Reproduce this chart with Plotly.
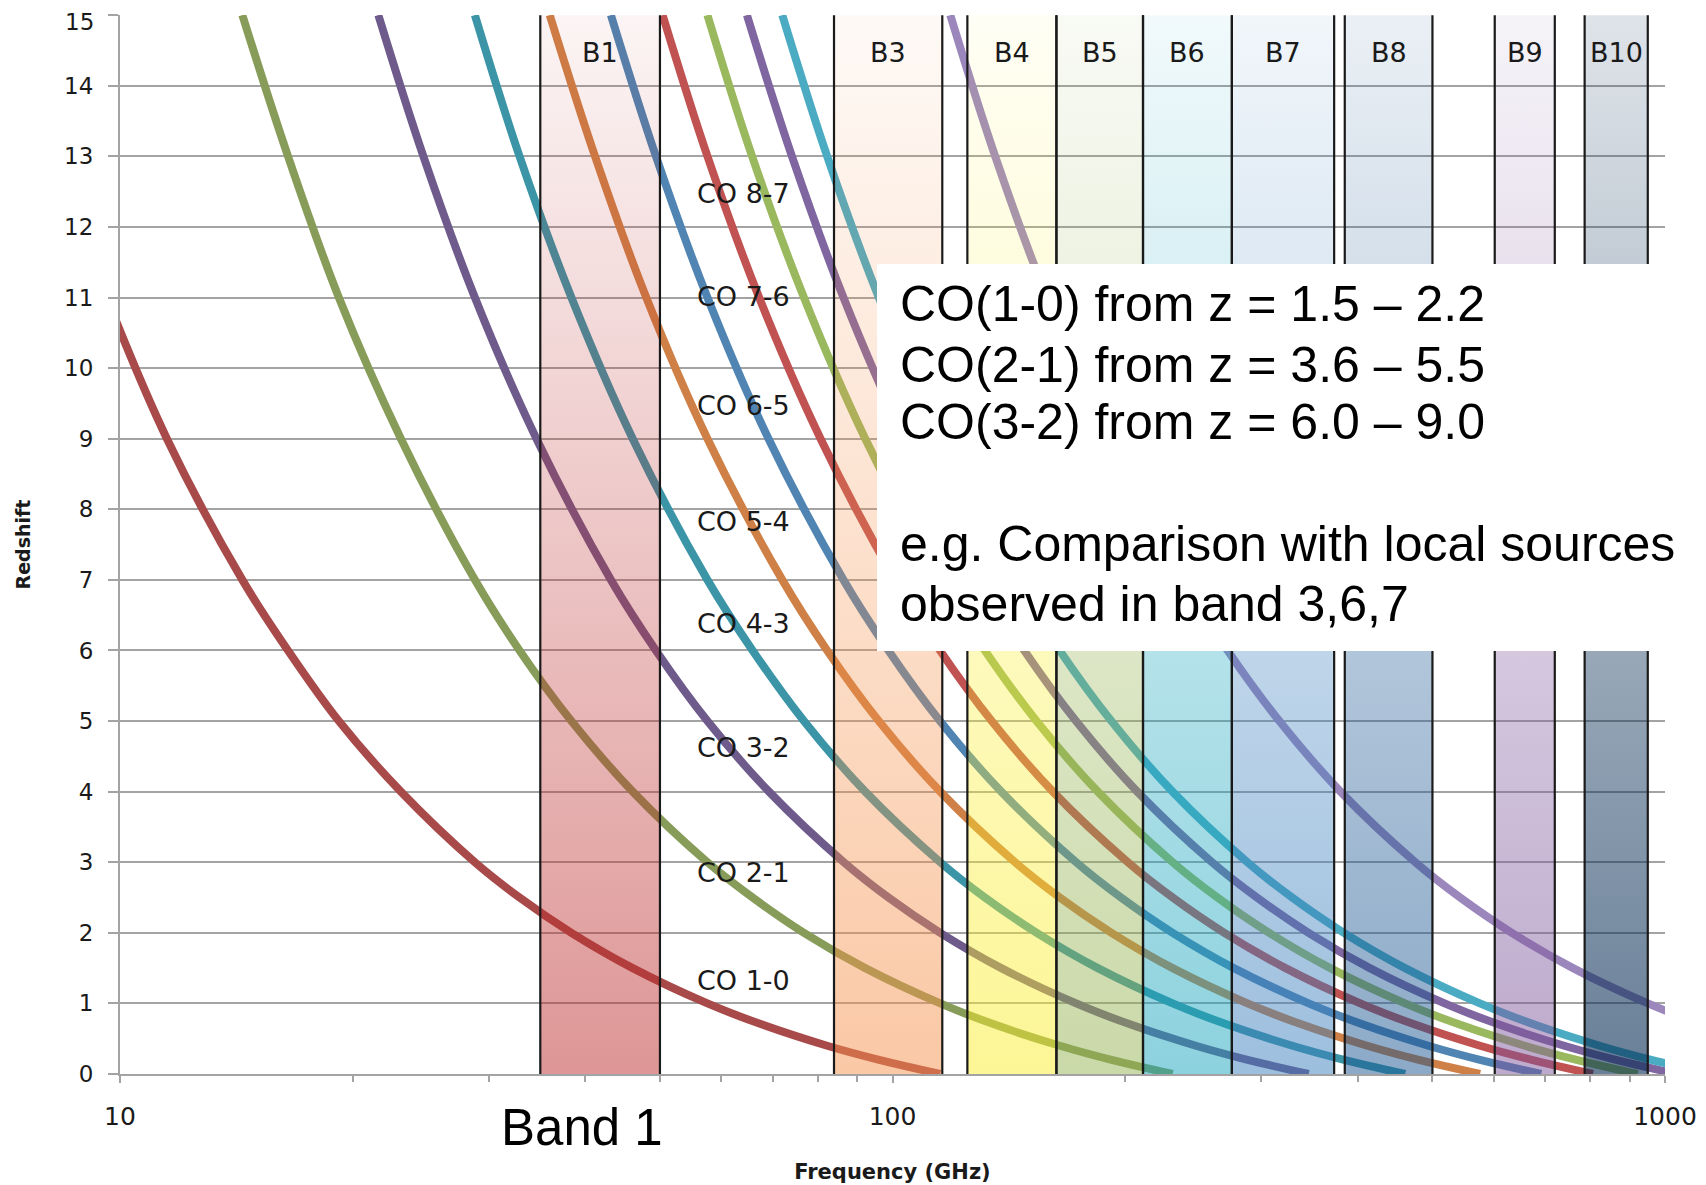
import numpy as np
import plotly.graph_objects as go

# ---------------- data ----------------
z_grid = [15, 13, 11, 9, 7, 6, 5, 4, 3, 2.5, 2, 1.5, 1, 0.7, 0.4, 0.2, 0]

co10 = [7.20, 8.23, 9.61, 11.5, 14.4, 16.5, 19.2, 23.1, 28.8, 32.9, 38.4, 46.1, 57.6, 67.8, 82.3, 96.1, 115.3]
co21 = [14.4, 16.5, 19.2, 23.1, 28.8, 32.9, 38.4, 46.1, 57.6, 65.9, 76.8, 92.2, 115.3, 135.6, 164.7, 192.1, 230.5]
co32 = [21.6, 24.7, 28.8, 34.6, 43.2, 49.4, 57.6, 69.2, 86.5, 98.8, 115.3, 138.3, 172.9, 203.4, 247.0, 288.2, 345.8]
co43 = [28.8, 32.9, 38.4, 46.1, 57.6, 65.9, 76.8, 92.2, 115.3, 131.7, 153.7, 184.4, 230.5, 271.2, 329.3, 384.2, 461.0]
co54 = [36.0, 41.2, 48.0, 57.6, 72.0, 82.3, 96.0, 115.3, 144.1, 164.6, 192.1, 230.5, 288.1, 339.0, 411.6, 480.2, 576.3]
co65 = [43.2, 49.4, 57.6, 69.1, 86.4, 98.8, 115.2, 138.3, 172.9, 197.6, 230.5, 276.6, 345.7, 406.7, 493.9, 576.2, 691.5]
co76 = [50.4, 57.6, 67.2, 80.7, 100.8, 115.2, 134.4, 161.3, 201.7, 230.5, 268.9, 322.7, 403.3, 474.5, 576.2, 672.2, 806.7]
co87 = [57.6, 65.8, 76.8, 92.2, 115.2, 131.7, 153.6, 184.4, 230.5, 263.4, 307.3, 368.7, 460.9, 542.2, 658.4, 768.2, 921.8]
co98 = [64.8, 74.1, 86.4, 103.7, 129.6, 148.1, 172.8, 207.4, 259.2, 296.3, 345.6, 414.8, 518.5, 609.9, 740.6, 864.1, 1036.9]
co109 = [72.0, 82.3, 96.0, 115.2, 144.0, 164.6, 192.0, 230.4, 288.0, 329.1, 384.0, 460.8, 576.0, 677.6, 822.9, 960.0, 1152.0]
cii = [118.8, 135.8, 158.4, 190.1, 237.6, 271.5, 316.8, 380.1, 475.1, 543.0, 633.5, 760.2, 950.3, 1117.9, 1357.5, 1583.8, 1900.5]

line_series = [co10, co21, co32, co43, co54, co65, co76, co87, co98, co109, cii]
line_names = ["CO 1-0", "CO 2-1", "CO 3-2", "CO 4-3", "CO 5-4", "CO 6-5",
              "CO 7-6", "CO 8-7", "CO 9-8", "CO 10-9", "[CII]"]

band_names = ["B1", "B3", "B4", "B5", "B6", "B7", "B8", "B9", "B10"]
band_lo = [35, 84, 125, 163, 211, 275, 385, 602, 787]
band_hi = [50, 116, 163, 211, 275, 373, 500, 720, 950]

label_names = ["CO 1-0", "CO 2-1", "CO 3-2", "CO 4-3", "CO 5-4", "CO 6-5", "CO 7-6", "CO 8-7"]

box_lines = ["CO(1-0) from z = 1.5 \u2013 2.2",
             "CO(2-1) from z = 3.6 \u2013 5.5",
             "CO(3-2) from z = 6.0 \u2013 9.0",
             "e.g. Comparison with local sources",
             "observed in band 3,6,7"]

x_ticks = [10, 100, 1000]
x_minor = [20, 30, 40, 50, 60, 70, 80, 90, 200, 300, 400, 500, 600, 700, 800, 900]
y_ticks = list(range(0, 16))
y_top_label = "15"

# ---------------- styles / positions ----------------
line_colors = ["#a94a4a", "#889c59", "#6f5b8b", "#3b95a6", "#cf8046", "#5084b2",
               "#c05252", "#9ab85e", "#7f66a0", "#4aabc2", "#9c87bc"]
band_base = [(189, 45, 45), (245, 145, 75), (249, 237, 45), (149, 179, 81),
             (25, 165, 189), (59, 127, 189), (25, 85, 145), (125, 85, 155), (5, 43, 83)]
band_alpha_bottom = [0.5, 0.5, 0.5, 0.5, 0.5, 0.5, 0.5, 0.5, 0.6]
band_alpha_top = [0.05, 0.05, 0.05, 0.06, 0.06, 0.07, 0.09, 0.07, 0.13]
label_z = [1.33, 2.85, 4.62, 6.38, 7.83, 9.47, 11.01, 12.47]
label_x_ghz = 55.5
band_label_z = 14.47
# screen-pixel positions (page has an 8px body margin)
OFF = 8
box_line_px = [303.6, 364.5, 422.0, 544.0, 604.0]

W, H = 1706 - OFF, 1185 - OFF
ML, MR, MT, MB = 112, 41, 7, 111
PW, PH = W - ML - MR, H - MT - MB


def px_to_paper_x(px):
    return (px - OFF - ML) / PW


def px_to_paper_y(py):
    return (H - MB - (py - OFF)) / PH


CHART_FONT = "DejaVu Sans"
TEXT_COLOR = "#1a1a1a"
GRID = "#a3a3a3"

fig = go.Figure()

# curves
for xs, name, col in zip(line_series, line_names, line_colors):
    fig.add_trace(go.Scatter(x=xs, y=z_grid, mode="lines", name=name,
                             line=dict(color=col, width=8, shape="spline", smoothing=1.0),
                             hoverinfo="skip"))

# band fills (semi-transparent vertical gradients, drawn over curves)
for lo, hi, base, a0, a1 in zip(band_lo, band_hi, band_base, band_alpha_bottom, band_alpha_top):
    r, g, b = base
    fig.add_trace(go.Scatter(
        x=[lo, hi, hi, lo, lo], y=[0, 0, 15, 15, 0], mode="none", fill="toself",
        fillgradient=dict(type="vertical", start=0, stop=15,
                          colorscale=[[0, f"rgba({r},{g},{b},{a0})"],
                                      [1, f"rgba({r},{g},{b},{a1})"]]),
        hoverinfo="skip", showlegend=False))

# band edge lines
for lo, hi in zip(band_lo, band_hi):
    for xv in (lo, hi):
        fig.add_trace(go.Scatter(x=[xv, xv], y=[0, 15], mode="lines",
                                 line=dict(color="#1a1a1a", width=2.2),
                                 hoverinfo="skip", showlegend=False))

annotations = []
# band labels
for name, lo, hi in zip(band_names, band_lo, band_hi):
    annotations.append(dict(x=(np.log10(lo) + np.log10(hi)) / 2, y=band_label_z,
                            xref="x", yref="y", text=name, showarrow=False,
                            xanchor="center", yanchor="middle",
                            font=dict(family=CHART_FONT, size=27, color=TEXT_COLOR)))
# CO labels
for name, zv in zip(label_names, label_z):
    annotations.append(dict(x=np.log10(label_x_ghz), y=zv, xref="x", yref="y",
                            text=name, showarrow=False, xanchor="left", yanchor="middle",
                            font=dict(family=CHART_FONT, size=27, color=TEXT_COLOR)))
# box text
for txt, py in zip(box_lines, box_line_px):
    annotations.append(dict(x=px_to_paper_x(898), y=px_to_paper_y(py), xref="paper", yref="paper",
                            text=txt, showarrow=False, xanchor="left", yanchor="middle",
                            font=dict(family="Liberation Sans, Arial", size=50, color="#000000")))
# Band 1 label under the axis
annotations.append(dict(x=px_to_paper_x(581.5), y=px_to_paper_y(1127), xref="paper", yref="paper",
                        text="Band 1", showarrow=False, xanchor="center", yanchor="middle",
                        font=dict(family="Liberation Sans, Arial", size=51, color="#000000")))
# topmost y tick label, kept inside the page edge
annotations.append(dict(x=px_to_paper_x(94.5), y=px_to_paper_y(OFF), xref="paper", yref="paper",
                        text=y_top_label, showarrow=False, xanchor="right", yanchor="top",
                        borderpad=0,
                        font=dict(family=CHART_FONT, size=23, color=TEXT_COLOR)))

shapes = [dict(type="rect", xref="paper", yref="paper", layer="above",
               x0=px_to_paper_x(877), x1=px_to_paper_x(1706),
               y0=px_to_paper_y(651), y1=px_to_paper_y(264),
               fillcolor="white", line=dict(width=0))]

y_ticktext = [str(v) for v in y_ticks]
y_ticktext[-1] = ""

fig.update_layout(
    width=W, height=H,
    margin=dict(l=ML, r=MR, t=MT, b=MB, autoexpand=False),
    plot_bgcolor="white", paper_bgcolor="white",
    showlegend=False,
    annotations=annotations, shapes=shapes,
    xaxis=dict(type="log", range=[1, 3], tickmode="array", tickvals=x_ticks,
               ticktext=[str(v) for v in x_ticks], automargin=False,
               ticks="outside", ticklen=7, tickwidth=2, tickcolor=GRID,
               minor=dict(tickmode="array", tickvals=x_minor, ticks="outside", ticklen=6,
                          tickwidth=2, tickcolor=GRID, showgrid=False),
               showgrid=False, zeroline=False, showline=True, linecolor=GRID, linewidth=2,
               tickfont=dict(family=CHART_FONT, size=25, color=TEXT_COLOR),
               ticklabelstandoff=12,
               title=dict(text="<b>Frequency (GHz)</b>", standoff=34,
                          font=dict(family=CHART_FONT, size=21, color=TEXT_COLOR))),
    yaxis=dict(range=[0, 15.002], tickmode="array", tickvals=y_ticks,
               ticktext=y_ticktext, automargin=False,
               ticks="outside", ticklen=10, tickwidth=2, tickcolor=GRID,
               showgrid=True, gridcolor=GRID, gridwidth=2,
               zeroline=False, showline=True, linecolor=GRID, linewidth=2,
               tickfont=dict(family=CHART_FONT, size=23, color=TEXT_COLOR),
               ticklabelstandoff=10,
               title=dict(text="<b>Redshift</b>", standoff=28,
                          font=dict(family=CHART_FONT, size=19, color=TEXT_COLOR))),
)

fig.write_html("out.html")
